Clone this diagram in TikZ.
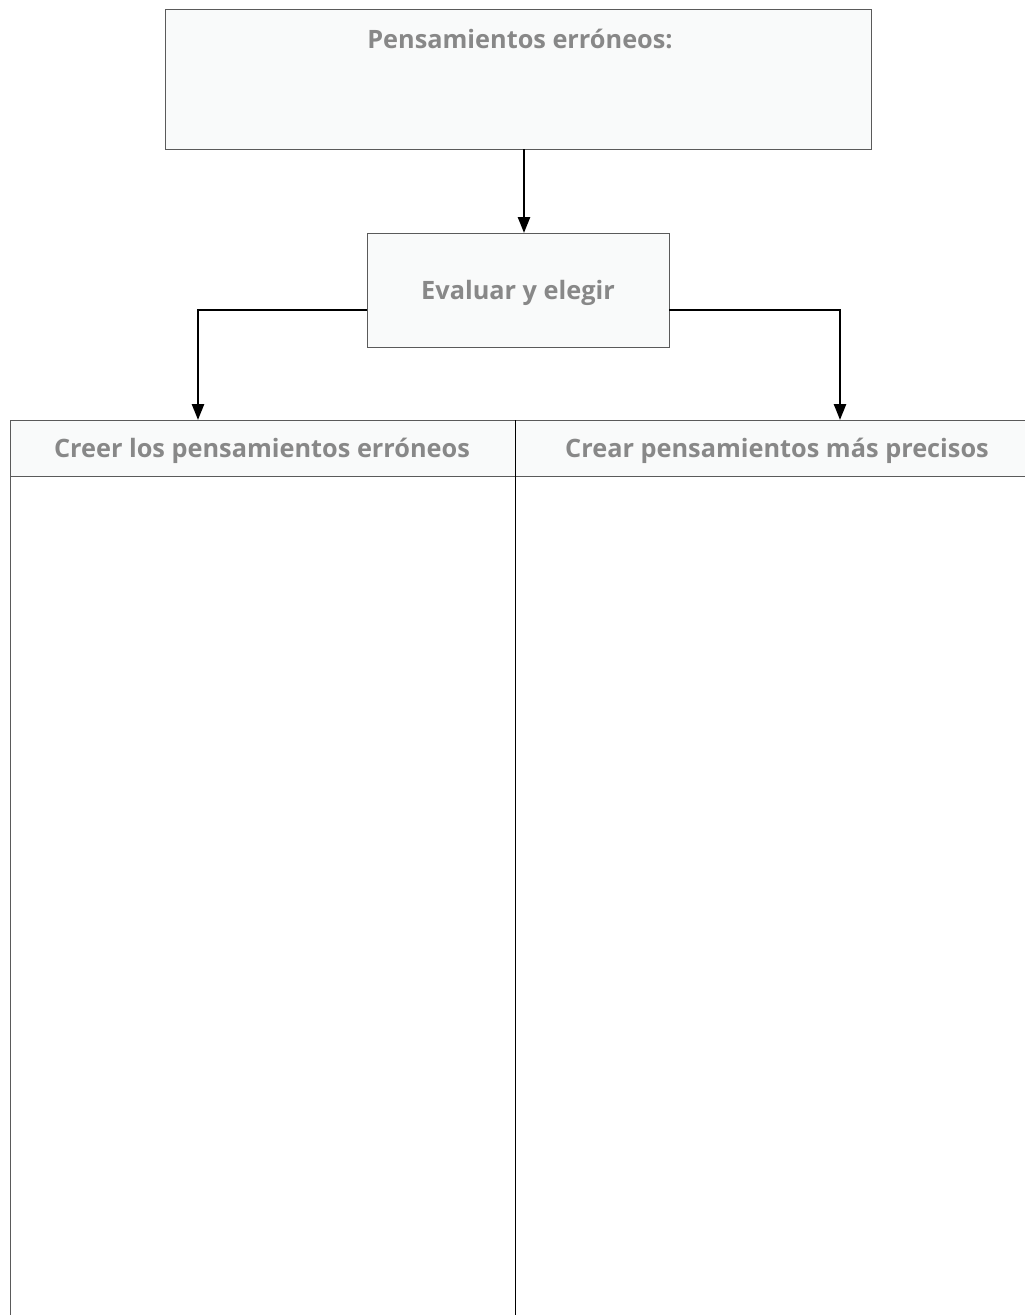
\documentclass[tikz,border=0pt]{standalone}
\usepackage{fontspec}
\setmainfont{Open Sans}
\usetikzlibrary{arrows.meta,positioning}
\definecolor{boxfill}{HTML}{F9FAFA}
\definecolor{boxline}{HTML}{5A5A5A}
\definecolor{txtgray}{HTML}{888888}
\begin{document}
\begin{tikzpicture}[x=1pt,y=-1pt,
  box/.style={draw=boxline,line width=0.9pt,fill=boxfill,inner sep=0pt,outer sep=0pt},
  lbl/.style={text=txtgray,font=\fontsize{25.3}{28}\selectfont\bfseries,inner sep=0pt},
  conn/.style={draw=black,line width=2.5pt,-{Triangle[width=12pt,length=16pt]}},
  cell/.style={draw=boxline,line width=0.9pt,inner sep=0pt,outer sep=0pt}]
\useasboundingbox (0,0) rectangle (1025,1315);
\clip (0,0) rectangle (1025,1315);
% top box
\node[box,minimum width=706pt,minimum height=140pt,anchor=north west] (top) at (165,9) {};
\node[lbl] (toptxt) at (520,39) {Pensamientos erróneos:};
% middle box
\node[box,minimum width=302pt,minimum height=114pt,anchor=north west] (mid) at (367,233) {};
\node[lbl] (midtxt) at (518,293) {Evaluar y elegir};
% table
\node[cell,fill=boxfill,minimum width=505pt,minimum height=56pt,anchor=north west] (h1) at (10,420) {};
\node[cell,fill=boxfill,minimum width=520pt,minimum height=56pt,anchor=north west] (h2) at (515,420) {};
\node[cell,fill=white,minimum width=505pt,minimum height=850pt,anchor=north west] (b1) at (10,476) {};
\node[cell,fill=white,minimum width=520pt,minimum height=850pt,anchor=north west] (b2) at (515,476) {};
\draw[black,line width=0.9pt] (h1.north east) -- (b1.south east);
\node[lbl] (h1txt) at (262,451) {Creer los pensamientos erróneos};
\node[lbl] (h2txt) at (777,451) {Crear pensamientos más precisos};
% connectors
\coordinate (lturn) at (198,310);
\coordinate (rturn) at (840,310);
\draw[conn] (top.south -| 524,0) -- (mid.north -| 524,0);
\draw[conn] (mid.west |- lturn) -- (lturn) -- (h1.north -| lturn);
\draw[conn] (mid.east |- rturn) -- (rturn) -- (h2.north -| rturn);
\end{tikzpicture}
\end{document}
